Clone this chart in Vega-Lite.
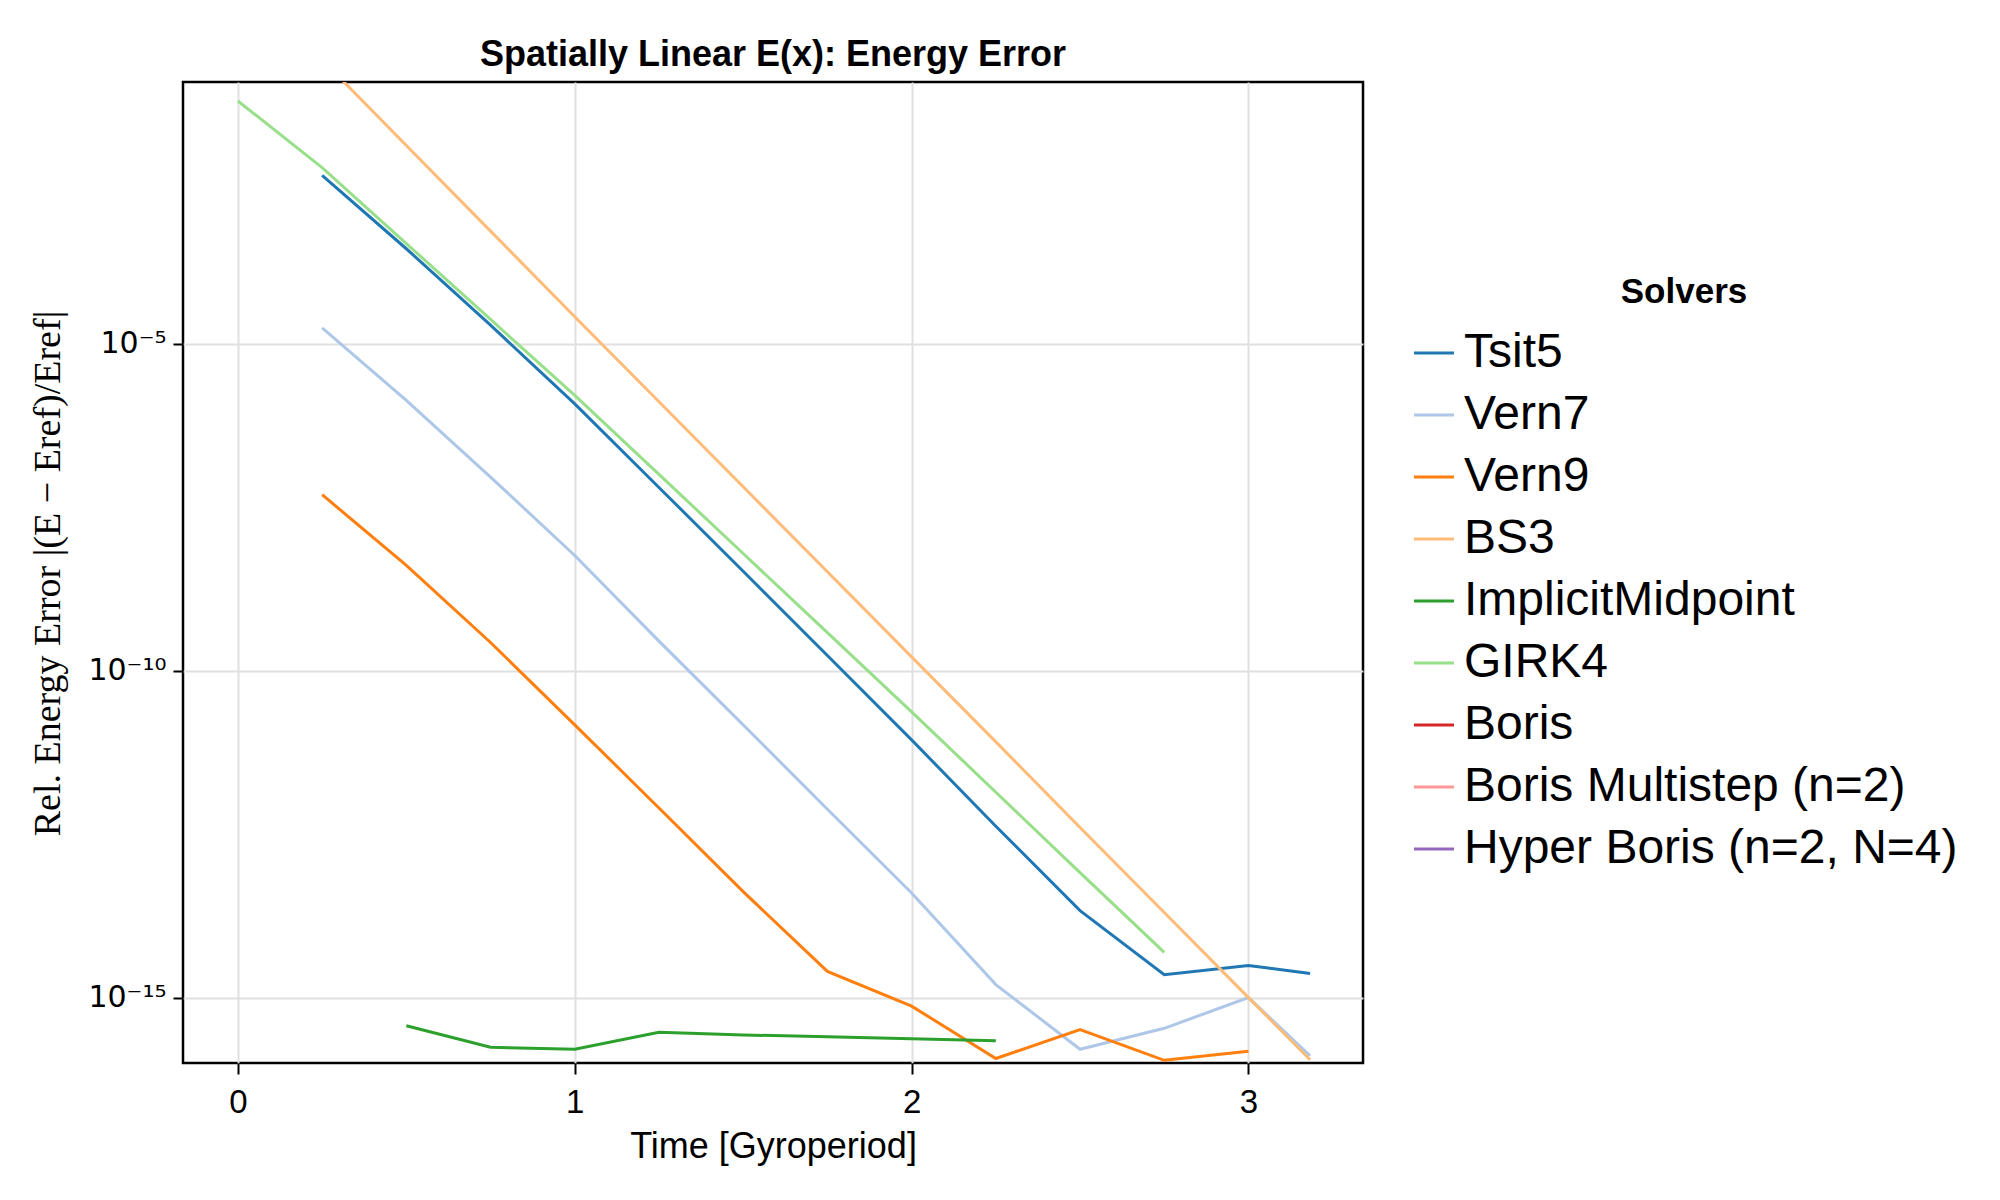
{
  "$schema": "https://vega.github.io/schema/vega-lite/v6.json",
  "autosize": {"type": "none"},
  "width": 1180,
  "height": 981,
  "padding": {"left": 183, "top": 82, "right": 637, "bottom": 137},
  "background": "white",
  "config": {
    "font": "Liberation Sans",
    "view": {"stroke": "black", "strokeWidth": 2.5}
  },
  "title": {
    "text": "Spatially Linear E(x): Energy Error",
    "fontSize": 36,
    "fontWeight": "bold",
    "font": "Liberation Sans",
    "color": "black",
    "anchor": "middle",
    "frame": "group",
    "baseline": "alphabetic",
    "offset": -20
  },
  "data": {
    "values": [
      {"solver": "Tsit5", "t": 0.25, "err": 3.72e-3},
      {"solver": "Tsit5", "t": 0.5, "err": 2.82e-4},
      {"solver": "Tsit5", "t": 0.75, "err": 1.91e-5},
      {"solver": "Tsit5", "t": 1.0, "err": 1.20e-6},
      {"solver": "Tsit5", "t": 1.25, "err": 6.31e-8},
      {"solver": "Tsit5", "t": 1.5, "err": 3.31e-9},
      {"solver": "Tsit5", "t": 1.75, "err": 1.70e-10},
      {"solver": "Tsit5", "t": 2.0, "err": 8.71e-12},
      {"solver": "Tsit5", "t": 2.25, "err": 4.17e-13},
      {"solver": "Tsit5", "t": 2.5, "err": 2.14e-14},
      {"solver": "Tsit5", "t": 2.75, "err": 2.24e-15},
      {"solver": "Tsit5", "t": 3.0, "err": 3.09e-15},
      {"solver": "Tsit5", "t": 3.183, "err": 2.34e-15},
      {"solver": "Vern7", "t": 0.25, "err": 1.74e-5},
      {"solver": "Vern7", "t": 0.5, "err": 1.35e-6},
      {"solver": "Vern7", "t": 0.75, "err": 9.12e-8},
      {"solver": "Vern7", "t": 1.0, "err": 5.75e-9},
      {"solver": "Vern7", "t": 1.25, "err": 2.82e-10},
      {"solver": "Vern7", "t": 1.5, "err": 1.48e-11},
      {"solver": "Vern7", "t": 1.75, "err": 7.59e-13},
      {"solver": "Vern7", "t": 2.0, "err": 3.98e-14},
      {"solver": "Vern7", "t": 2.25, "err": 1.58e-15},
      {"solver": "Vern7", "t": 2.5, "err": 1.62e-16},
      {"solver": "Vern7", "t": 2.75, "err": 3.39e-16},
      {"solver": "Vern7", "t": 3.0, "err": 1.0e-15},
      {"solver": "Vern7", "t": 3.183, "err": 1.29e-16},
      {"solver": "Vern9", "t": 0.25, "err": 4.90e-8},
      {"solver": "Vern9", "t": 0.5, "err": 4.07e-9},
      {"solver": "Vern9", "t": 0.75, "err": 2.69e-10},
      {"solver": "Vern9", "t": 1.0, "err": 1.48e-11},
      {"solver": "Vern9", "t": 1.25, "err": 7.94e-13},
      {"solver": "Vern9", "t": 1.5, "err": 4.17e-14},
      {"solver": "Vern9", "t": 1.75, "err": 2.51e-15},
      {"solver": "Vern9", "t": 2.0, "err": 7.41e-16},
      {"solver": "Vern9", "t": 2.25, "err": 1.17e-16},
      {"solver": "Vern9", "t": 2.5, "err": 3.24e-16},
      {"solver": "Vern9", "t": 2.75, "err": 1.10e-16},
      {"solver": "Vern9", "t": 3.0, "err": 1.51e-16},
      {"solver": "BS3", "t": 0.25, "err": 0.219},
      {"solver": "BS3", "t": 0.5, "err": 1.07e-2},
      {"solver": "BS3", "t": 0.75, "err": 5.25e-4},
      {"solver": "BS3", "t": 1.0, "err": 2.57e-5},
      {"solver": "BS3", "t": 1.25, "err": 1.29e-6},
      {"solver": "BS3", "t": 1.5, "err": 6.46e-8},
      {"solver": "BS3", "t": 1.75, "err": 3.24e-9},
      {"solver": "BS3", "t": 2.0, "err": 1.62e-10},
      {"solver": "BS3", "t": 2.25, "err": 8.13e-12},
      {"solver": "BS3", "t": 2.5, "err": 3.98e-13},
      {"solver": "BS3", "t": 2.75, "err": 2.0e-14},
      {"solver": "BS3", "t": 3.0, "err": 1.0e-15},
      {"solver": "BS3", "t": 3.183, "err": 1.12e-16},
      {"solver": "ImplicitMidpoint", "t": 0.5, "err": 3.72e-16},
      {"solver": "ImplicitMidpoint", "t": 0.75, "err": 1.74e-16},
      {"solver": "ImplicitMidpoint", "t": 1.0, "err": 1.62e-16},
      {"solver": "ImplicitMidpoint", "t": 1.25, "err": 2.95e-16},
      {"solver": "ImplicitMidpoint", "t": 1.5, "err": 2.69e-16},
      {"solver": "ImplicitMidpoint", "t": 1.75, "err": 2.51e-16},
      {"solver": "ImplicitMidpoint", "t": 2.0, "err": 2.34e-16},
      {"solver": "ImplicitMidpoint", "t": 2.25, "err": 2.19e-16},
      {"solver": "GIRK4", "t": 0.0, "err": 5.13e-2},
      {"solver": "GIRK4", "t": 0.25, "err": 4.90e-3},
      {"solver": "GIRK4", "t": 0.5, "err": 3.39e-4},
      {"solver": "GIRK4", "t": 0.75, "err": 2.34e-5},
      {"solver": "GIRK4", "t": 1.0, "err": 1.62e-6},
      {"solver": "GIRK4", "t": 1.25, "err": 1.0e-7},
      {"solver": "GIRK4", "t": 1.5, "err": 6.17e-9},
      {"solver": "GIRK4", "t": 1.75, "err": 3.80e-10},
      {"solver": "GIRK4", "t": 2.0, "err": 2.34e-11},
      {"solver": "GIRK4", "t": 2.25, "err": 1.38e-12},
      {"solver": "GIRK4", "t": 2.5, "err": 8.13e-14},
      {"solver": "GIRK4", "t": 2.75, "err": 4.90e-15}
    ]
  },
  "mark": {"type": "line", "strokeWidth": 3, "clip": true},
  "encoding": {
    "x": {
      "field": "t",
      "type": "quantitative",
      "scale": {"domain": [-0.163, 3.34], "nice": false, "zero": false},
      "axis": {
        "title": "Time [Gyroperiod]",
        "values": [0, 1, 2, 3],
        "format": "d",
        "domain": false,
        "grid": true,
        "gridColor": "#e0e0e0",
        "gridWidth": 2,
        "ticks": true,
        "tickSize": 11,
        "tickWidth": 2,
        "tickColor": "black",
        "labelFontSize": 33,
        "labelColor": "black",
        "labelPadding": 12,
        "titleFontSize": 36,
        "titleFontWeight": "normal",
        "titleColor": "black",
        "titlePadding": 10
      }
    },
    "y": {
      "field": "err",
      "type": "quantitative",
      "scale": {"type": "log", "domain": [1e-16, 1e-1], "nice": false},
      "axis": {
        "title": "Rel. Energy Error |(E − Eref)/Eref|",
        "values": [1e-15, 1e-10, 1e-5],
        "labelExpr": "datum.value > 1e-6 ? '10⁻⁵' : (datum.value > 1e-11 ? '10⁻¹⁰' : '10⁻¹⁵')",
        "domain": false,
        "grid": true,
        "gridColor": "#e0e0e0",
        "gridWidth": 2,
        "tickSize": 10,
        "tickWidth": 2,
        "tickColor": "black",
        "labelFont": "DejaVu Sans",
        "labelFontSize": 30,
        "labelColor": "black",
        "labelPadding": 7,
        "titleFont": "Liberation Serif",
        "titleFontSize": 38,
        "titleFontWeight": "normal",
        "titleColor": "black",
        "titleAngle": 270,
        "titleX": -135,
        "titleY": 491,
        "titleAlign": "center",
        "titleBaseline": "middle"
      }
    },
    "color": {
      "field": "solver",
      "type": "nominal",
      "scale": {
        "domain": ["Tsit5", "Vern7", "Vern9", "BS3", "ImplicitMidpoint", "GIRK4", "Boris", "Boris Multistep (n=2)", "Hyper Boris (n=2, N=4)"],
        "range": ["#1f77b4", "#aec7e8", "#ff7f0e", "#ffbb78", "#2ca02c", "#98df8a", "#d62728", "#ff9896", "#9467bd"]
      },
      "legend": {
        "title": "Solvers",
        "orient": "none",
        "legendX": 1227,
        "legendY": 193,
        "padding": 0,
        "titleFontSize": 35,
        "titleFontWeight": "bold",
        "titleColor": "black",
        "titleAnchor": "middle",
        "titlePadding": 19,
        "labelFontSize": 48,
        "labelColor": "black",
        "labelOffset": 6,
        "labelLimit": 1000,
        "symbolType": "stroke",
        "symbolSize": 1600,
        "symbolStrokeWidth": 3,
        "rowPadding": 14
      }
    },
    "order": {"field": "t", "type": "quantitative"}
  }
}
